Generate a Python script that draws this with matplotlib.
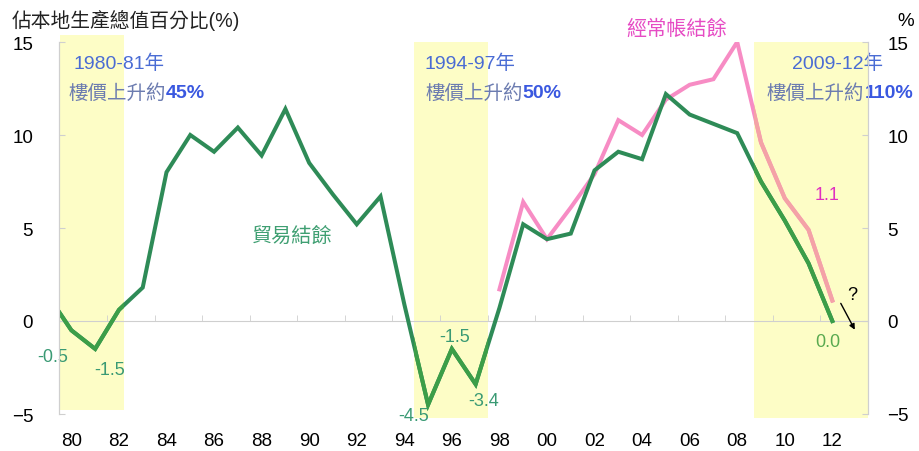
import matplotlib
matplotlib.use("Agg")
import matplotlib.pyplot as plt
from matplotlib.patches import Rectangle

plt.rcParams['font.family'] = ['Liberation Sans', 'Noto Sans CJK TC', 'DejaVu Sans']

# ---- data ----
years_trade = list(range(1979, 2013))
trade_balance = [1.4, -0.5, -1.5, 0.6, 1.8, 8.0, 10.0, 9.1, 10.4, 8.9, 11.4, 8.5, 6.8, 5.2, 6.7,
                 0.9, -4.5, -1.5, -3.4, 0.7, 5.2, 4.4, 4.7, 8.1, 9.1, 8.7, 12.2, 11.1, 10.6, 10.1,
                 7.5, 5.4, 3.1, 0.0]
years_ca = list(range(1998, 2013))
current_account = [1.7, 6.4, 4.4, 6.1, 7.9, 10.8, 10.0, 11.9, 12.7, 13.0, 15.0, 9.6, 6.6, 4.9, 1.1]

xtick_years = list(range(1980, 2013, 2))
xtick_labels = [f"{y % 100:02d}" for y in xtick_years]
yticks = [-5, 0, 5, 10, 15]

span_start = [1979.5, 1994.4, 2008.7]
span_end = [1982.2, 1997.5, 2013.5]
span_low = [-4.8, -5.2, -5.2]
span_high = [15.4, 15.0, 15.0]
span_years = ["1980-81年", "1994-97年", "2009-12年"]
span_rise = ["45%", "50%", "110%"]

trade_labels = [(1980, "-0.5"), (1981, "-1.5"), (1995, "-4.5"), (1996, "-1.5"), (1997, "-3.4"), (2012, "0.0")]

# ---- figure ----
fig = plt.figure(figsize=(9.2, 4.52), dpi=100)
ax = fig.add_axes([59.5 / 920, 1 - 415 / 452, (868 - 59.5) / 920, (415 - 43) / 452])
ax.set_xlim(1979.5, 2013.5)
ax.set_ylim(-5, 15)

YELLOW = '#fdfdc6'
GREEN = '#2e8b57'
GREEN_L = '#3c9e48'
PINK = '#f78cc4'
PINK_L = '#f4a2a6'

rects = []
for x0, x1, y0, y1 in zip(span_start, span_end, span_low, span_high):
    r = Rectangle((x0, y0), x1 - x0, y1 - y0, facecolor=YELLOW, edgecolor='none', zorder=0, clip_on=False)
    ax.add_patch(r)
    rects.append(r)

ax.plot(years_trade, trade_balance, color=GREEN, lw=2.9, zorder=3, solid_joinstyle='miter')
ax.plot(years_ca, current_account, color=PINK, lw=2.9, zorder=2, solid_joinstyle='miter')
for r in rects:
    l1, = ax.plot(years_trade, trade_balance, color=GREEN_L, lw=2.9, zorder=3.5, solid_joinstyle='miter')
    l1.set_clip_path(r)
    l2, = ax.plot(years_ca, current_account, color=PINK_L, lw=2.9, zorder=2.5, solid_joinstyle='miter')
    l2.set_clip_path(r)

# axes styling
GRAY = '#cfcfcf'
for s in ['left', 'right']:
    ax.spines[s].set_color(GRAY)
ax.spines['bottom'].set_visible(False)
ax.spines['top'].set_position(('data', 0))
ax.spines['top'].set_color(GRAY)
ax.spines['top'].set_zorder(1)

ax.set_xticks(xtick_years)
ax.set_xticklabels(xtick_labels)
ax.set_xticks([y + 1.5 for y in xtick_years], minor=True)
ax.tick_params(axis='x', which='major', length=0, pad=13, labelsize=13.5, bottom=True, top=False)
ax.tick_params(axis='x', which='minor', length=4, color=GRAY, direction='out', top=True, bottom=False)

ax.set_yticks(yticks)
ax.tick_params(axis='y', which='major', direction='in', length=4, color=GRAY, labelsize=13.5, pad=19)
ax2 = ax.twinx()
ax2.set_ylim(-5, 15)
ax2.set_yticks(yticks)
ax2.tick_params(axis='y', direction='in', length=4, color=GRAY, labelsize=13.5, pad=14)
for s in ['left', 'right']:
    ax2.spines[s].set_color(GRAY)
ax2.spines['top'].set_visible(False)
ax2.spines['bottom'].set_visible(False)

# titles
fig.text(12 / 920, 1 - 20 / 452, "佔本地生產總值百分比(%)", fontsize=14.2, va='center', ha='left', color='#222222')
fig.text(906 / 920, 1 - 21 / 452, "%", fontsize=13.5, va='center', ha='center')

# span annotations
YEARC = '#4a6cd4'
RISEC = '#6c7cb0'
RISEB = '#3a58e0'
FS = 14
pos_year = [(1980.07, 'left'), (1994.87, 'left'), (2014.13, 'right')]
for (x, ha), ytxt in zip(pos_year, span_years):
    ax.text(x, 13.9, ytxt, color=YEARC, fontsize=FS, ha=ha, va='center', zorder=6, clip_on=False)
xs_rise = [1979.86, 1994.87]
for i, rise in enumerate(span_rise):
    if i < 2:
        t = ax.text(xs_rise[i], 12.3, "樓價上升約", color=RISEC, fontsize=FS, ha='left', va='center', zorder=6)
        ax.annotate(rise, xy=(1, 0.5), xycoords=t, ha='left', va='center', color=RISEB,
                    fontsize=FS, fontweight='bold', zorder=6)
    else:
        t = ax.text(2015.4, 12.3, rise, color=RISEB, fontsize=FS, fontweight='bold', ha='right', va='center',
                    zorder=6, clip_on=False)
        ax.annotate("樓價上升約", xy=(0, 0.5), xycoords=t, ha='right', va='center', color=RISEC,
                    fontsize=FS, zorder=6, annotation_clip=False)

# series labels
ax.text(1989.3, 4.6, "貿易結餘", color='#3f9f72', fontsize=14.5, ha='center', va='center')
ax.text(2005.46, 15.75, "經常帳結餘", color='#e64cc4', fontsize=14.5, ha='center', va='center', clip_on=False)

# data labels
lab_pos = {1980: (1979.23, -1.9), 1981: (1981.6, -2.6), 1995: (1994.4, -5.1),
           1996: (1996.1, -0.86), 1997: (1997.35, -4.25), 2012: (2011.8, -1.1)}
for yr, txt in trade_labels:
    px, py = lab_pos[yr]
    c = '#5aaa50' if yr == 2012 else '#3a9a74'
    ax.text(px, py, txt, color=c, fontsize=13, ha='center', va='center', zorder=6, clip_on=False)
ax.text(2011.77, 6.8, f"{current_account[-1]:.1f}", color='#e030c0', fontsize=13, ha='center', va='center', zorder=6)

# question arrow
ax.annotate("", xy=(2013.0, -0.6), xytext=(2012.3, 1.08),
            arrowprops=dict(arrowstyle='-|>', color='black', lw=1.0, mutation_scale=8), zorder=6)
ax.text(2012.85, 1.45, "?", color='black', fontsize=13, ha='center', va='center', zorder=6)

fig.savefig("out.png", dpi=100)
